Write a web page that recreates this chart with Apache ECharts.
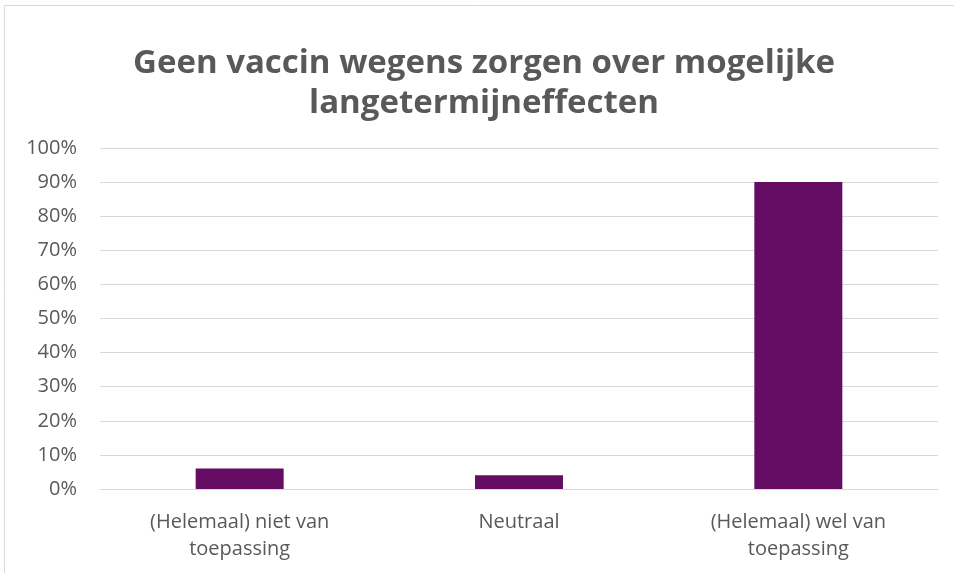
<!DOCTYPE html>
<html>
<head>
<meta charset="utf-8">
<script src="https://cdn.jsdelivr.net/npm/echarts@6/dist/echarts.min.js"></script>
<style>
  html, body { margin: 0; padding: 0; background: #fff; }
  #chart { width: 954px; height: 573px; }
</style>
</head>
<body>
<div id="chart"></div>
<script>
// chart data
const titleText = 'Geen vaccin wegens zorgen over mogelijke\nlangetermijneffecten';
const categories = ['(Helemaal) niet van\ntoepassing', 'Neutraal', '(Helemaal) wel van\ntoepassing'];
const values = [6, 4, 90];

const chart = echarts.init(document.getElementById('chart'));
const grey = '#595959';
const font = '"Open Sans", sans-serif';

chart.setOption({
  backgroundColor: '#fff',
  animation: false,
  title: {
    text: titleText,
    left: 479,
    top: 39,
    textAlign: 'center',
    textStyle: { fontSize: 33, fontWeight: 'bold', color: grey, fontFamily: font, lineHeight: 40 },
  },
  graphic: [
    {
      type: 'rect',
      shape: { x: 4.5, y: 5.5, width: 960, height: 580 },
      style: { fill: 'none', stroke: '#d9d9d9', lineWidth: 1 },
      silent: true,
    },
  ],
  grid: { left: 100, right: 16, top: 148, bottom: 84 },
  xAxis: {
    type: 'category',
    data: categories,
    axisLine: { lineStyle: { color: '#d9d9d9' } },
    axisTick: { show: false },
    axisLabel: { color: grey, fontSize: 20, fontFamily: font, lineHeight: 27, margin: 20 },
  },
  yAxis: {
    type: 'value',
    min: 0,
    max: 100,
    interval: 10,
    axisLine: { show: false },
    axisTick: { show: false },
    splitLine: { lineStyle: { color: '#d9d9d9', width: 1 } },
    axisLabel: { color: grey, fontSize: 20, fontFamily: font, margin: 23, formatter: (v) => `${v}%` },
  },
  series: [
    {
      type: 'bar',
      data: values,
      barWidth: '31.5%',
      itemStyle: { color: '#650D64' },
    },
  ],
});
</script>
</body>
</html>
